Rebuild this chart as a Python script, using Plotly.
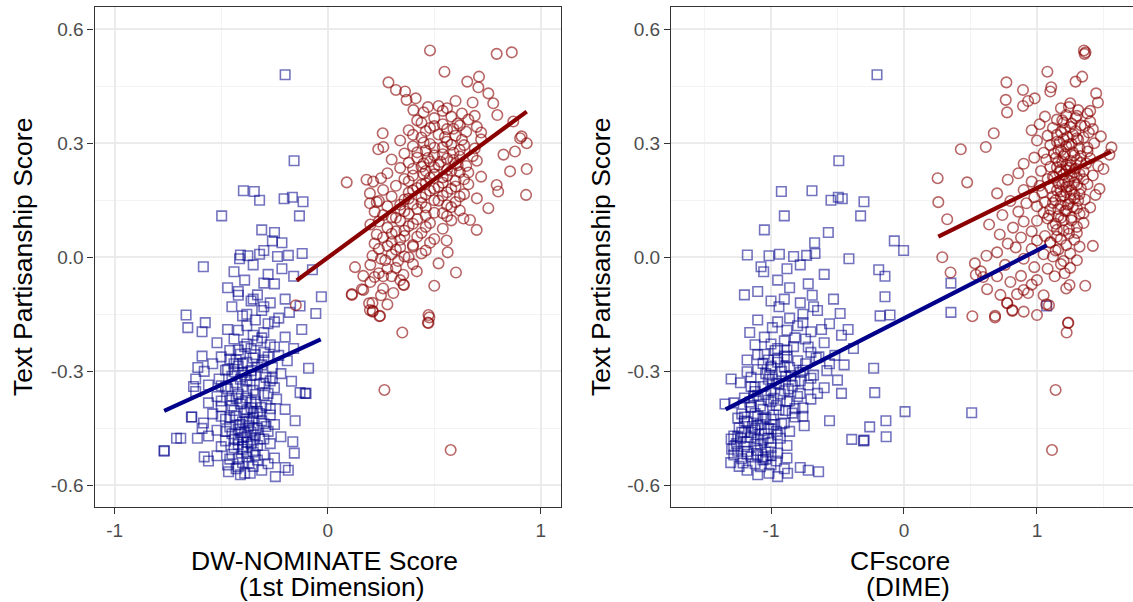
import plotly.graph_objects as go

# ---------------- data ----------------
# Democrats: text score (y), DW-NOMINATE (dw), CFscore (cf)
dem_y = [0.480, 0.254, 0.175, 0.173, 0.150, 0.154, 0.158, 0.146, 0.109, 0.109,
         0.072, 0.065, 0.038, 0.043, 0.006, 0.004, 0.008, 0.002, 0.005, 0.010,
         0.018, -0.004, -0.033, -0.025, -0.038, -0.020, -0.045, -0.030, -0.050, -0.060,
         -0.068, -0.070, -0.080, -0.099, -0.104, -0.100, -0.110, -0.115, -0.120, -0.128,
         -0.130, -0.140, -0.145, -0.148, -0.152, -0.154, -0.160, -0.165, -0.172, -0.175,
         -0.185, -0.190, -0.192, -0.196, -0.198, -0.190, -0.180, -0.170, -0.205, -0.210,
         -0.215, -0.220, -0.225, -0.230, -0.235, -0.240, -0.245, -0.250, -0.255, -0.258,
         -0.262, -0.265, -0.270, -0.272, -0.276, -0.280, -0.283, -0.286, -0.290, -0.292,
         -0.295, -0.298, -0.300, -0.303, -0.306, -0.310, -0.313, -0.316, -0.320, -0.323,
         -0.326, -0.330, -0.333, -0.336, -0.340, -0.343, -0.346, -0.350, -0.353, -0.356,
         -0.358, -0.240, -0.270, -0.310, -0.280, -0.325, -0.360, -0.363, -0.366, -0.370,
         -0.373, -0.376, -0.380, -0.383, -0.386, -0.390, -0.393, -0.396, -0.400, -0.403,
         -0.406, -0.409, -0.412, -0.415, -0.418, -0.420, -0.423, -0.426, -0.430, -0.433,
         -0.436, -0.440, -0.443, -0.446, -0.449, -0.452, -0.455, -0.458, -0.461, -0.464,
         -0.467, -0.470, -0.472, -0.474, -0.476, -0.476, -0.476, -0.478, -0.479, -0.481,
         -0.483, -0.485, -0.487, -0.490, -0.492, -0.495, -0.498, -0.365, -0.395, -0.425,
         -0.445, -0.460, -0.380, -0.410, -0.440, -0.505, -0.508, -0.510, -0.512, -0.515,
         -0.518, -0.520, -0.522, -0.525, -0.528, -0.530, -0.533, -0.536, -0.540, -0.543,
         -0.546, -0.550, -0.553, -0.556, -0.560, -0.564, -0.568, -0.568, -0.577, -0.572,
         -0.320, -0.340, -0.290, -0.260, -0.420, -0.450, -0.525, -0.430, -0.358, -0.560,
         -0.228, -0.244, -0.256, -0.268, -0.279, -0.289, -0.301, -0.311, -0.321, -0.331,
         -0.341, -0.351, -0.361, -0.371, -0.381, -0.391, -0.401, -0.411, -0.421, -0.431,
         -0.441, -0.451, -0.461, -0.471, -0.481, -0.491, -0.501, -0.511, -0.521, -0.531,
         -0.541, -0.551, -0.212, -0.236, -0.262, -0.297, -0.318, -0.338, -0.358, -0.378,
         -0.398, -0.418, -0.438, -0.458, -0.478, -0.498, -0.150, -0.130, -0.110, -0.090]
dem_dw = [-0.200, -0.158, -0.396, -0.345, -0.320, -0.205, -0.166, -0.116, -0.498, -0.133,
          -0.310, -0.250, -0.215, -0.260, -0.410, -0.375, -0.320, -0.236, -0.185, -0.120,
          -0.300, -0.414, -0.072, -0.584, -0.440, -0.350, -0.280, -0.215, -0.160, -0.390,
          -0.300, -0.250, -0.470, -0.330, -0.030, -0.420, -0.200, -0.360, -0.270, -0.130,
          -0.450, -0.310, -0.180, -0.056, -0.665, -0.400, -0.230, -0.340, -0.575, -0.280,
          -0.657, -0.122, -0.420, -0.590, -0.300, -0.470, -0.380, -0.250, -0.350, -0.200,
          -0.440, -0.330, -0.520, -0.270, -0.390, -0.160, -0.460, -0.300, -0.410, -0.230,
          -0.500, -0.350, -0.430, -0.190, -0.380, -0.540, -0.310, -0.420, -0.260, -0.090,
          -0.470, -0.360, -0.580, -0.400, -0.220, -0.340, -0.450, -0.290, -0.510, -0.380,
          -0.170, -0.430, -0.320, -0.560, -0.400, -0.250, -0.470, -0.350, -0.620, -0.130,
          -0.102, -0.360, -0.300, -0.390, -0.440, -0.270, -0.420, -0.300, -0.520, -0.380,
          -0.240, -0.460, -0.340, -0.560, -0.410, -0.290, -0.500, -0.360, -0.200, -0.440,
          -0.330, -0.390, -0.540, -0.270, -0.430, -0.638, -0.350, -0.480, -0.310, -0.400,
          -0.583, -0.250, -0.370, -0.460, -0.330, -0.420, -0.520, -0.280, -0.390, -0.450,
          -0.340, -0.560, -0.220, -0.400, -0.612, -0.710, -0.690, -0.300, -0.440, -0.350,
          -0.480, -0.164, -0.380, -0.270, -0.420, -0.330, -0.500, -0.450, -0.310, -0.380,
          -0.290, -0.360, -0.400, -0.350, -0.410, -0.400, -0.768, -0.768, -0.350, -0.157,
          -0.450, -0.300, -0.520, -0.380, -0.250, -0.420, -0.330, -0.560, -0.400, -0.280,
          -0.470, -0.350, -0.200, -0.430, -0.310, -0.466, -0.364, -0.390, -0.246, -0.410,
          -0.620, -0.630, -0.610, -0.590, -0.640, -0.590, -0.580, -0.153, -0.106, -0.185,
          -0.380, -0.420, -0.340, -0.460, -0.400, -0.330, -0.440, -0.360, -0.410, -0.300,
          -0.480, -0.380, -0.340, -0.430, -0.360, -0.450, -0.380, -0.320, -0.460, -0.370,
          -0.430, -0.350, -0.410, -0.380, -0.420, -0.360, -0.440, -0.380, -0.340, -0.460,
          -0.370, -0.420, -0.310, -0.250, -0.280, -0.480, -0.260, -0.500, -0.280, -0.500,
          -0.270, -0.500, -0.300, -0.480, -0.320, -0.400, -0.380, -0.300, -0.350, -0.420]
dem_cf = [-0.203, -0.490, -0.692, -0.922, -0.549, -0.464, -0.494, -0.301, -0.900, -0.326,
          -1.050, -0.569, -0.672, -0.073, -1.178, -1.015, -0.937, -0.830, -0.732, -0.669,
          -0.003, -0.414, -0.190, -1.075, -1.055, -0.780, -0.600, -0.880, -0.143, -0.950,
          0.353, -0.720, -0.860, -1.200, -0.143, -0.690, -0.530, -1.000, -0.780, 1.073,
          -0.940, -0.650, 0.353, -0.480, -0.105, -0.180, -0.860, -1.100, -0.760, -0.560,
          -0.990, -0.420, -0.880, -0.700, -1.160, -0.620, -0.800, -0.950, -0.470, -1.050,
          -0.740, -0.900, -0.600, -1.120, -0.830, -0.380, -0.970, -0.700, -1.050, -0.520,
          -0.880, -0.660, -1.180, -0.800, -0.950, -0.740, -0.450, -1.000, -0.860, -0.228,
          -1.100, -0.580, -0.920, -0.780, -1.040, -0.680, -0.890, -1.150, -0.990, -0.500,
          -0.820, -1.230, -0.940, -0.720, -1.060, -0.600, -0.870, -1.000, -1.120, -0.220,
          -0.650, -0.950, -1.020, -1.010, -0.560, -0.780, -0.930, -1.100, -0.800, -1.200,
          -0.700, -1.020, -0.880, -1.280, -1.346, -0.960, -1.150, -0.760, -1.060, -0.890,
          0.008, 0.509, -1.220, -0.980, -1.100, -0.820, -1.250, -1.000, -0.136, -1.180,
          -0.900, -1.080, -0.750, -0.258, -1.240, -1.000, -1.120, -0.860, -1.200, -1.050,
          -0.950, -1.280, -0.134, -1.150, -1.020, -1.230, -0.930, -1.100, -0.393, -0.300,
          -0.304, -1.180, -1.000, -1.260, -1.080, -0.880, -1.200, -1.130, -1.150, -1.060,
          -1.140, -1.220, -1.000, -0.840, -0.980, -1.296, -1.100, -1.250, -1.040, -0.950,
          -1.180, -1.280, -1.000, -1.150, -0.880, -1.220, -1.060, -0.960, -1.303, -1.120,
          -1.000, -1.240, -0.780, -0.900, -1.180, -0.642, -1.015, -0.875, -0.950, -1.100,
          -1.300, -1.150, -1.000, -0.900, -1.200, -1.120, -1.060, -0.560, -0.470, -0.720,
          -1.000, -0.880, -1.100, -0.950, -1.060, -0.900, -1.180, -0.850, -1.020, -0.960,
          -1.120, -0.900, -1.040, -0.980, -1.160, -1.080, -0.940, -1.120, -1.040, -1.200,
          -1.100, -1.020, -1.150, -1.250, -1.060, -1.120, -1.000, -1.180, -1.100, -1.040,
          -1.210, -1.080, -0.820, -0.720, -0.640, -0.760, -0.700, -0.840, -0.780, -0.860,
          -0.820, -0.760, -0.920, -0.960, -1.300, -1.280, -0.760, -0.680, -0.900, -1.100]

# Republicans
rep_y = [0.544, 0.539, 0.535, 0.488, 0.475, 0.462, 0.460, 0.447, 0.440, 0.436,
         0.431, 0.418, 0.414, 0.411, 0.407, 0.405, 0.398, 0.392, 0.387, 0.381,
         0.378, 0.374, 0.370, 0.366, 0.362, 0.357, 0.354, 0.350, 0.347, 0.343,
         0.340, 0.337, 0.334, 0.330, 0.326, 0.323, 0.320, 0.318, 0.315, 0.313,
         0.310, 0.307, 0.304, 0.300, 0.298, 0.295, 0.292, 0.290, 0.289, 0.286,
         0.284, 0.281, 0.278, 0.275, 0.273, 0.270, 0.268, 0.265, 0.262, 0.260,
         0.257, 0.254, 0.252, 0.249, 0.246, 0.243, 0.240, 0.238, 0.235, 0.232,
         0.230, 0.227, 0.226, 0.224, 0.221, 0.218, 0.215, 0.212, 0.210, 0.208,
         0.206, 0.204, 0.201, 0.199, 0.197, 0.195, 0.192, 0.190, 0.188, 0.185,
         0.182, 0.180, 0.177, 0.175, 0.173, 0.170, 0.168, 0.166, 0.164, 0.162,
         0.160, 0.158, 0.155, 0.152, 0.150, 0.148, 0.145, 0.145, 0.142, 0.140,
         0.137, 0.134, 0.131, 0.129, 0.126, 0.123, 0.120, 0.117, 0.114, 0.111,
         0.108, 0.105, 0.102, 0.100, 0.098, 0.096, 0.094, 0.090, 0.086, 0.082,
         0.078, 0.075, 0.072, 0.068, 0.064, 0.060, 0.056, 0.052, 0.048, 0.044,
         0.040, 0.036, 0.032, 0.030, 0.026, 0.022, 0.018, 0.013, 0.008, 0.004,
         0.000, -0.004, -0.010, -0.016, -0.020, -0.026, -0.030, -0.037, -0.040, -0.042,
         -0.046, -0.049, -0.050, -0.052, -0.050, -0.060, -0.065, -0.073, -0.075, -0.072,
         -0.082, -0.084, -0.086, -0.094, -0.097, -0.099, -0.100, -0.120, -0.121, -0.124,
         -0.126, -0.139, -0.141, -0.143, -0.152, -0.154, -0.155, -0.158, -0.172, -0.173,
         -0.198, -0.349, -0.507, 0.395, 0.385, 0.372, 0.360, 0.352, 0.345, 0.338,
         0.332, 0.328, 0.322, 0.316, 0.309, 0.302, 0.296, 0.288, 0.282, 0.276,
         0.271, 0.266, 0.261, 0.256, 0.251, 0.247, 0.242, 0.237, 0.233, 0.228,
         0.223, 0.219, 0.214, 0.209, 0.205, 0.200, 0.196, 0.191, 0.186, 0.181,
         0.176, 0.171, 0.165, 0.160, 0.154, 0.149, 0.143, 0.138, 0.132, 0.127,
         0.121, 0.116, 0.110, 0.104, 0.097, 0.088, 0.080, 0.070, 0.062, 0.054,
         0.046, 0.038, 0.028, 0.020, 0.010, 0.002, -0.008, -0.018, -0.028]
rep_dw = [0.480, 0.864, 0.793, 0.548, 0.710, 0.655, 0.285, 0.707, 0.320, 0.363,
          0.754, 0.413, 0.370, 0.600, 0.680, 0.777, 0.520, 0.560, 0.402, 0.450,
          0.630, 0.796, 0.580, 0.500, 0.660, 0.871, 0.440, 0.540, 0.620, 0.700,
          0.480, 0.560, 0.380, 0.650, 0.258, 0.520, 0.600, 0.910, 0.440, 0.903,
          0.720, 0.340, 0.560, 0.934, 0.480, 0.640, 0.400, 0.261, 0.540, 0.690,
          0.237, 0.460, 0.879, 0.590, 0.360, 0.825, 0.500, 0.620, 0.420, 0.560,
          0.300, 0.700, 0.480, 0.380, 0.600, 0.520, 0.650, 0.440, 0.340, 0.934,
          0.560, 0.460, 0.856, 0.620, 0.280, 0.500, 0.400, 0.720, 0.540, 0.250,
          0.360, 0.182, 0.600, 0.213, 0.089, 0.460, 0.660, 0.793, 0.320, 0.520,
          0.420, 0.580, 0.260, 0.480, 0.800, 0.380, 0.198, 0.640, 0.931, 0.540,
          0.300, 0.440, 0.700, 0.360, 0.500, 0.240, 0.600, 0.230, 0.198, 0.400,
          0.560, 0.280, 0.460, 0.754, 0.340, 0.620, 0.220, 0.500, 0.380, 0.260,
          0.560, 0.300, 0.637, 0.420, 0.668, 0.340, 0.240, 0.480, 0.200, 0.380,
          0.280, 0.540, 0.699, 0.320, 0.440, 0.230, 0.360, 0.260, 0.500, 0.558,
          0.300, 0.220, 0.400, 0.280, 0.340, 0.240, 0.460, 0.563, 0.300, 0.210,
          0.380, 0.250, 0.330, 0.520, 0.200, 0.128, 0.280, 0.418, 0.602, 0.240,
          0.355, 0.167, 0.300, 0.220, 0.260, 0.340, 0.200, 0.358, 0.500, 0.355,
          0.260, 0.160, 0.167, 0.308, 0.113, 0.113, 0.250, 0.210, 0.194, 0.280,
          -0.150, 0.198, 0.211, 0.211, 0.473, 0.245, 0.243, 0.477, 0.470, 0.473,
          0.350, 0.266, 0.577, 0.470, 0.540, 0.690, 0.420, 0.610, 0.500, 0.590,
          0.460, 0.720, 0.400, 0.550, 0.630, 0.450, 0.580, 0.500, 0.620, 0.420,
          0.540, 0.680, 0.470, 0.590, 0.530, 0.450, 0.610, 0.500, 0.400, 0.580,
          0.660, 0.450, 0.560, 0.480, 0.640, 0.380, 0.540, 0.440, 0.600, 0.500,
          0.400, 0.560, 0.460, 0.620, 0.380, 0.520, 0.440, 0.340, 0.580, 0.420,
          0.360, 0.540, 0.460, 0.320, 0.580, 0.400, 0.460, 0.360, 0.300, 0.420,
          0.340, 0.480, 0.400, 0.320, 0.440, 0.360, 0.270, 0.400, 0.320]
rep_cf = [1.353, 1.365, 1.358, 1.078, 1.340, 1.290, 0.770, 1.107, 0.895, 1.100,
          1.445, 0.983, 0.765, 0.933, 1.458, 1.250, 0.895, 1.180, 1.310, 0.775,
          1.380, 1.220, 1.060, 1.290, 1.150, 1.400, 1.200, 1.020, 1.330, 1.250,
          1.120, 1.420, 0.960, 1.180, 0.675, 1.270, 1.080, 1.480, 1.350, 1.300,
          1.200, 1.000, 1.150, 1.430, 1.260, 1.100, 1.220, 0.615, 1.560, 1.320,
          0.427, 1.180, 1.380, 1.050, 1.130, 1.545, 1.280, 1.200, 0.980, 1.400,
          1.070, 1.250, 1.160, 1.330, 0.900, 1.220, 1.460, 1.100, 1.240, 1.500,
          1.180, 1.030, 1.350, 1.280, 0.860, 1.200, 1.420, 1.120, 1.300, 0.253,
          1.080, 0.780, 1.240, 0.960, 0.475, 1.160, 1.380, 1.300, 1.020, 1.220,
          1.100, 1.470, 0.900, 1.260, 1.180, 1.040, 0.700, 1.320, 1.440, 1.200,
          1.120, 0.980, 1.280, 1.360, 1.140, 0.800, 1.060, 0.258, 0.920, 1.240,
          1.180, 1.000, 1.400, 1.300, 1.100, 1.220, 0.860, 1.050, 1.320, 0.740,
          1.160, 1.260, 1.080, 0.325, 1.200, 1.000, 0.900, 1.350, 0.640, 1.120,
          0.820, 1.240, 1.150, 0.960, 1.300, 0.720, 1.060, 0.880, 1.180, 1.000,
          1.100, 0.780, 1.220, 1.420, 0.840, 0.960, 1.140, 0.700, 1.050, 0.620,
          0.288, 0.900, 1.200, 0.533, 0.760, 0.980, 1.080, 0.578, 0.350, 1.208,
          0.540, 0.880, 1.133, 0.595, 0.700, 1.000, 0.800, 1.245, 1.363, 0.960,
          1.220, 0.625, 0.900, 0.933, 0.850, 0.725, 1.050, 0.775, 0.777, 1.070,
          1.090, 0.815, 0.815, 0.900, 1.000, 0.685, 0.514, 0.684, 1.236, 1.233,
          1.223, 1.140, 1.113, 1.240, 1.400, 1.300, 1.190, 1.260, 1.360, 1.210,
          1.290, 1.390, 1.150, 1.230, 1.310, 1.170, 1.240, 1.380, 1.160, 1.270,
          1.210, 1.330, 1.140, 1.300, 1.190, 1.370, 1.250, 1.150, 1.290, 1.220,
          1.170, 1.320, 1.260, 1.130, 1.350, 1.210, 1.280, 1.190, 1.240, 1.330,
          1.150, 1.220, 1.280, 1.180, 1.250, 1.310, 1.120, 1.230, 1.270, 1.160,
          1.210, 1.350, 1.090, 1.180, 1.260, 1.140, 1.300, 1.200, 1.240, 1.150,
          1.280, 1.100, 1.320, 1.160, 1.250, 1.120, 1.300, 1.180, 1.250]

# fitted regression lines (endpoints)
dem_fit_dw_x = [-0.768, -0.033]
dem_fit_dw_y = [-0.404, -0.216]
rep_fit_dw_x = [-0.146, 0.934]
rep_fit_dw_y = [-0.061, 0.383]
dem_fit_cf_x = [-1.341, 1.073]
dem_fit_cf_y = [-0.400, 0.031]
rep_fit_cf_x = [0.258, 1.556]
rep_fit_cf_y = [0.054, 0.278]

x_ticks = [-1, 0, 1]
x_tick_labels = ["-1", "0", "1"]
y_ticks = [-0.6, -0.3, 0.0, 0.3, 0.6]
y_tick_labels = ["-0.6", "-0.3", "0.0", "0.3", "0.6"]

y_title = "Text Partisanship Score"
x_title_left = ["DW-NOMINATE Score", "(1st Dimension)"]
x_title_right = ["CFscore", "(DIME)"]

# ---------------- styling ----------------
W, H = 1133, 602
FONT = "Liberation Sans, Arial, Helvetica, sans-serif"
RED = "rgba(139,0,0,0.6)"
BLUE = "rgba(0,0,139,0.55)"

fig = go.Figure()

def add_panel(xa, ya, dem_x, rep_x, dfx, dfy, rfx, rfy):
    fig.add_trace(go.Scatter(x=dem_x, y=dem_y, mode="markers", xaxis=xa, yaxis=ya,
                             marker=dict(symbol="square-open", size=9.5, color=BLUE,
                                         line=dict(width=1.6, color=BLUE)),
                             showlegend=False, hoverinfo="skip"))
    fig.add_trace(go.Scatter(x=rep_x, y=rep_y, mode="markers", xaxis=xa, yaxis=ya,
                             marker=dict(symbol="circle-open", size=10.5, color=RED,
                                         line=dict(width=1.6, color=RED)),
                             showlegend=False, hoverinfo="skip"))
    fig.add_trace(go.Scatter(x=dfx, y=dfy, mode="lines", xaxis=xa, yaxis=ya,
                             line=dict(color="#00008B", width=4.2),
                             showlegend=False, hoverinfo="skip"))
    fig.add_trace(go.Scatter(x=rfx, y=rfy, mode="lines", xaxis=xa, yaxis=ya,
                             line=dict(color="#8B0000", width=4.2),
                             showlegend=False, hoverinfo="skip"))

add_panel("x", "y", dem_dw, rep_dw, dem_fit_dw_x, dem_fit_dw_y, rep_fit_dw_x, rep_fit_dw_y)
add_panel("x2", "y2", dem_cf, rep_cf, dem_fit_cf_x, dem_fit_cf_y, rep_fit_cf_x, rep_fit_cf_y)

tickfont = dict(family=FONT, size=19, color="#4D4D4D")
common_x = dict(tickmode="array", tickvals=x_ticks, ticktext=x_tick_labels,
                showgrid=True, gridcolor="#EBEBEB", gridwidth=1.6,
                minor=dict(tickmode="linear", tick0=0, dtick=0.5, showgrid=True,
                           gridcolor="#F3F3F3", gridwidth=1, ticks=""),
                zeroline=False, showline=True, linecolor="#333333", linewidth=1.3,
                ticks="outside", ticklen=6, tickwidth=1.4, tickcolor="#333333",
                tickfont=tickfont, mirror=True)
common_y = dict(tickmode="array", tickvals=y_ticks, ticktext=y_tick_labels,
                showgrid=True, gridcolor="#EBEBEB", gridwidth=1.6,
                minor=dict(tickmode="linear", tick0=0, dtick=0.15, showgrid=True,
                           gridcolor="#F3F3F3", gridwidth=1, ticks=""),
                zeroline=False, showline=True, linecolor="#333333", linewidth=1.3,
                ticks="outside", ticklen=6, tickwidth=1.4, tickcolor="#333333",
                tickfont=tickfont, range=[-0.656, 0.659])

y_dom = [1 - 506.7 / H, 1 - 6.7 / H]
fig.update_layout(
    width=W, height=H, margin=dict(l=0, r=0, t=0, b=0),
    paper_bgcolor="white", plot_bgcolor="white",
    xaxis=dict(common_x, domain=[94.5 / W, 561 / W], range=[-1.095, 1.095], anchor="y"),
    yaxis=dict(common_y, domain=y_dom, anchor="x", mirror=True),
    xaxis2=dict(common_x, domain=[671 / W, 1.0], range=[-1.752, 1.722], anchor="y2"),
    yaxis2=dict(common_y, domain=y_dom, anchor="x2", mirror=False),
    font=dict(family=FONT),
)

title_font = dict(family=FONT, size=26.5, color="black")
ann = []
ann.append(dict(text=y_title, x=23 / W, y=1 - 257 / H, xref="paper", yref="paper",
                textangle=-90, showarrow=False, font=title_font,
                xanchor="center", yanchor="middle"))
ann.append(dict(text=y_title, x=601 / W, y=1 - 257 / H, xref="paper", yref="paper",
                textangle=-90, showarrow=False, font=title_font,
                xanchor="center", yanchor="middle"))
for txt, cx, cy in [(x_title_left[0], 324, 561), (x_title_left[1], 331.5, 587),
                    (x_title_right[0], 899.5, 561), (x_title_right[1], 908, 587)]:
    ann.append(dict(text=txt, x=cx / W, y=1 - cy / H, xref="paper", yref="paper",
                    showarrow=False, font=title_font, xanchor="center", yanchor="middle",
                    borderpad=0))
fig.update_layout(annotations=ann)

fig.write_html("out.html")
